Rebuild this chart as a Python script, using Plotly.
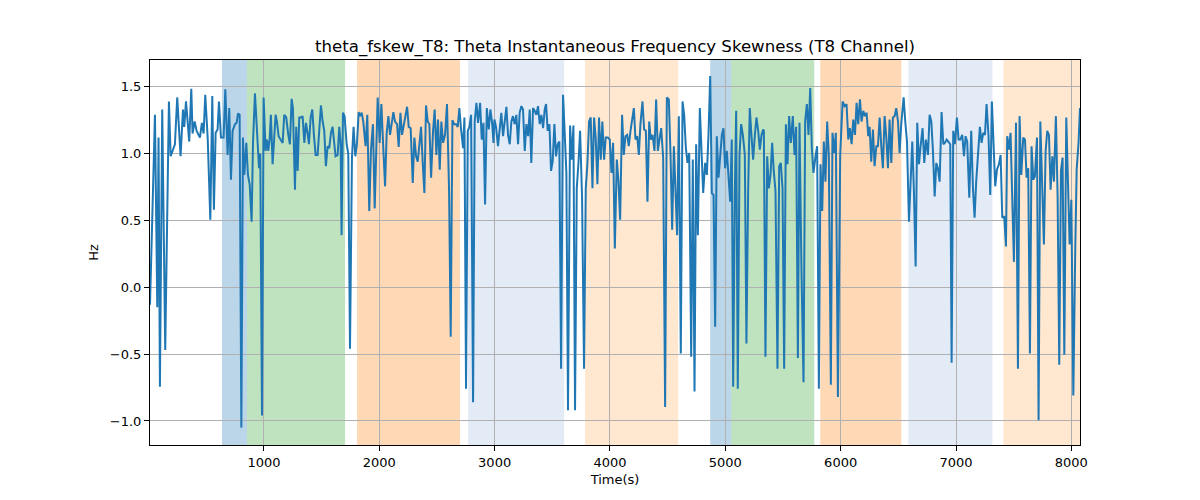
import plotly.graph_objects as go

# ---- data ----
t_seg1 = [12, 55, 75, 86, 98, 118, 144, 176, 191, 214, 228, 248, 277, 298, 309, 324, 352, 370, 381, 399,
          416, 445, 462, 477, 491, 512, 535, 552, 566, 581, 598, 610, 627, 650, 665, 685, 699, 714, 728, 749,
          763, 775, 789, 804, 818, 830, 847, 861, 876, 893, 905, 922, 939, 957, 968, 983, 997]
v_seg1 = [-0.13, 1.29, -0.15, 1.12, -0.745, 1.33, -0.47, 1.39, 0.98, 1.03, 1.07, 1.42, 0.98, 1.33, 1.2, 1.39, 1.09, 1.485, 1.15, 1.24,
          1.17, 1.12, 1.23, 1.15, 1.44, 1.12, 0.505, 1.43, 0.58, 1.155, 1.18, 1.39, 1.12, 1.12, 1.48, 0.99, 1.34, 0.805, 1.17, 1.22,
          1.23, 1.30, 1.29, -1.05, 1.12, 0.84, 1.08, 0.84, 0.77, 0.49, 1.08, 1.45, 1.14, 0.89, 1.0, -0.96, 1.42]

t_seg2 = [1014, 1026, 1037, 1049, 1060, 1075, 1089, 1101, 1112, 1127, 1144, 1162, 1176, 1193, 1211, 1225, 1240, 1251, 1269, 1280,
          1292, 1306, 1321, 1335, 1350, 1364, 1378, 1390, 1405, 1419, 1433, 1448, 1465, 1480, 1494, 1509, 1523, 1537, 1552, 1566,
          1581, 1595, 1607, 1621, 1639, 1653, 1665, 1673, 1685, 1699, 1717, 1731, 1746, 1763, 1777, 1792, 1806, 1821, 1832, 1847,
          1861, 1881, 1896, 1913, 1928, 1945, 1960]
v_seg2 = [1.02, 1.105, 1.02, 1.105, 1.29, 0.92, 1.17, 1.29, 1.24, 1.13, 1.105, 1.08, 1.29, 1.27, 1.14, 1.07, 1.41, 1.34, 0.73, 1.2,
          0.87, 1.27, 1.27, 1.28, 1.08, 1.23, 1.155, 1.07, 1.27, 1.33, 1.14, 0.99, 0.99, 1.19, 1.36, 1.24, 1.17, 0.905, 1.055, 1.04,
          1.155, 1.2, 1.08, 0.98, 0.99, 1.2, 1.07, 0.39, 1.305, 1.28, 1.07, 1.0, -0.46, 0.97, 1.2, 0.98, 1.07, 1.31, 1.28, 1.305,
          1.24, 1.055, 1.29, 0.57, 1.03, 1.22, 0.59]

t_seg3 = [1986, 2003, 2018, 2032, 2050, 2064, 2079, 2093, 2108, 2122, 2136, 2154, 2168, 2183, 2197, 2212, 2226, 2241, 2255, 2272,
          2290, 2304, 2319, 2333, 2348, 2362, 2376, 2391, 2405, 2420, 2434, 2449, 2466, 2480, 2495, 2509, 2524, 2538, 2553, 2570,
          2587, 2605, 2619, 2634, 2648, 2665, 2680, 2694, 2709, 2726, 2738, 2752, 2767, 2781, 2796, 2813, 2827, 2842, 2856, 2874,
          2888, 2903, 2917, 2932, 2949, 2963, 2978, 2990]
v_seg3 = [1.42, 1.08, 1.37, 1.09, 0.755, 1.155, 1.28, 1.14, 1.24, 1.31, 1.24, 1.22, 1.05, 1.305, 1.14, 1.22, 1.27, 1.35, 1.2, 1.19,
          0.78, 1.12, 0.98, 0.94, 1.07, 1.2, 0.94, 0.705, 1.36, 1.24, 1.22, 0.82, 1.17, 1.33, 0.99, 1.255, 0.88, 1.24, 1.08, 1.14,
          1.37, 0.72, -0.37, 1.25, 1.22, 1.22, 1.2, 1.34, 1.18, 1.04, 1.27, -0.76, 1.17, 1.2, 1.29, -0.86, 1.24, 1.38, 1.23, 1.38,
          1.105, 1.23, 0.62, 1.34, 1.18, 1.33, 1.23, 1.08]

t_seg4 = [2998, 3012, 3029, 3044, 3058, 3073, 3087, 3102, 3116, 3131, 3145, 3159, 3174, 3188, 3203, 3217, 3232, 3246, 3261, 3275,
          3290, 3304, 3318, 3333, 3347, 3362, 3376, 3391, 3405, 3420, 3434, 3446, 3460, 3475, 3489, 3503, 3518, 3532, 3547, 3561,
          3576, 3593, 3608, 3622, 3636, 3654, 3668, 3683, 3697, 3712, 3726, 3741, 3758, 3775, 3790, 3804, 3819, 3833, 3848, 3862,
          3876, 3891, 3905, 3920, 3934, 3949, 3963]
v_seg4 = [1.255, 1.2, 1.055, 1.18, 1.305, 1.13, 1.22, 1.35, 1.14, 1.07, 1.24, 1.28, 1.22, 1.29, 1.07, 1.305, 1.355, 1.33, 1.02, 1.22,
          1.13, 1.33, 0.93, 1.34, 1.32, 1.29, 1.355, 1.22, 1.29, 1.19, 1.33, 1.37, 1.17, 1.22, 0.87, 0.94, 1.22, 0.98, 1.07, 1.09,
          -0.61, 1.44, 1.14, 0.855, -0.92, 1.21, 0.955, 1.21, -0.92, 0.74, 0.92, 1.17, 0.67, -0.61, 0.74, 0.92, 1.24, 1.27, 0.74, 1.27,
          1.12, 0.77, 1.27, 0.955, 1.24, 0.955, 1.12]

t_seg5 = [3981, 3998, 4013, 4027, 4042, 4059, 4073, 4088, 4105, 4120, 4134, 4149, 4163, 4178, 4192, 4207, 4221, 4236, 4250, 4264,
          4282, 4296, 4311, 4325, 4340, 4354, 4369, 4386, 4400, 4415, 4429, 4444, 4461, 4478, 4493, 4510, 4525, 4539, 4554, 4568,
          4582, 4597, 4614, 4629, 4643, 4658, 4672, 4687, 4704, 4718, 4733, 4747, 4762, 4779, 4794, 4808, 4825, 4840, 4854, 4869,
          4883, 4898, 4912, 4926, 4941, 4955, 4970]
v_seg5 = [1.12, 1.105, 0.855, 1.08, 0.29, 0.955, 0.8, 0.505, 1.29, 0.99, 1.13, 1.14, 1.055, 1.17, 1.24, 1.34, 1.105, 1.13, 0.99, 1.22,
          1.39, 1.18, 1.17, 0.64, 1.24, 1.105, 1.14, 1.02, 1.405, 1.02, 1.105, 1.19, 0.97, -0.895, 1.42, 1.405, 0.99, 0.43, 1.055, 0.74,
          0.39, 1.28, -0.495, 1.39, 1.29, 1.04, 0.93, 1.005, -0.52, 0.955, -0.78, 1.07, 0.39, 1.34, 1.02, 0.705, 0.93, 0.84, 1.14, 1.58,
          0.705, 0.69, -0.295, 1.13, 0.82, 0.97, 1.14]

t_seg6 = [4984, 4998, 5013, 5027, 5042, 5056, 5068, 5082, 5094, 5108, 5123, 5137, 5152, 5169, 5183, 5198, 5212, 5227, 5241, 5256,
          5270, 5285, 5299, 5314, 5328, 5334, 5348, 5363, 5377, 5392, 5406, 5420, 5435, 5452, 5467, 5481, 5496, 5510, 5525, 5539,
          5553, 5568, 5585, 5600, 5614, 5629, 5643, 5660, 5678, 5692, 5707, 5721, 5736, 5750, 5764, 5782, 5796, 5811, 5825, 5840,
          5854, 5868, 5883, 5897, 5915, 5929, 5944, 5958]
v_seg6 = [1.19, 0.89, 1.02, 0.84, 0.64, 1.105, -0.745, 0.69, 1.32, -0.76, 0.99, 1.22, 1.14, 0.99, -0.42, 0.73, 1.34, 1.13, 0.955, 1.14,
          1.27, 1.17, 1.03, 1.14, 1.18, 1.17, -0.52, 0.98, 0.74, 0.84, 1.08, 0.87, 0.72, -0.61, 0.905, 0.93, 0.74, -0.61, 1.22, 0.92,
          1.28, 1.08, 1.28, 0.99, 1.2, -0.53, 1.23, 0.14, -0.71, 1.24, 1.37, 1.14, 1.49, 1.04, 0.855, 0.98, 1.055, -0.76, 0.92, 0.57,
          1.09, 0.79, 1.24, 0.99, -0.73, 1.155, 1.005, 1.155]

t_seg7 = [5976, 5996, 6017, 6034, 6051, 6066, 6080, 6095, 6109, 6124, 6138, 6152, 6167, 6181, 6196, 6210, 6225, 6239, 6251, 6265,
          6280, 6294, 6309, 6323, 6338, 6352, 6366, 6381, 6395, 6410, 6424, 6439, 6453, 6468, 6482, 6497, 6511, 6525, 6546, 6560,
          6575, 6592, 6606, 6621, 6635, 6650, 6664, 6679, 6693, 6710, 6725, 6739, 6757, 6771, 6786, 6800, 6815, 6829, 6843, 6858,
          6875, 6890, 6904, 6919, 6933, 6950, 6962]
v_seg7 = [-0.82, 0.99, 1.39, 1.355, 1.37, 1.105, 1.19, 1.07, 1.255, 1.14, 1.38, 1.22, 1.405, 1.24, 1.32, 1.28, 1.305, 1.13, 1.2, 0.94,
          1.18, 0.905, 1.055, 1.055, 1.27, 1.055, 0.89, 1.28, 1.13, 0.89, 1.255, 0.93, 1.27, 1.28, 1.34, 1.24, 1.005, 1.22, 1.42, 1.24,
          1.09, 0.49, 0.855, 1.09, 0.72, 0.155, 1.23, 0.92, 1.055, 1.19, 0.93, 1.105, 0.99, 1.29, 1.24, 1.02, 0.68, 0.93, 0.89, 0.79,
          1.31, 1.07, 1.08, 1.105, 1.09, 1.07, -0.565]

t_seg8 = [6976, 6990, 7008, 7022, 7037, 7054, 7069, 7083, 7097, 7115, 7132, 7147, 7161, 7175, 7193, 7207, 7222, 7236, 7251, 7265,
          7282, 7297, 7311, 7326, 7340, 7355, 7372, 7387, 7401, 7418, 7433, 7444, 7459, 7473, 7488, 7502, 7520, 7537, 7551, 7566,
          7583, 7598, 7612, 7626, 7641, 7655, 7670, 7684, 7702, 7716, 7731, 7745, 7762, 7777, 7791, 7806, 7820, 7835, 7849, 7866,
          7881, 7895, 7910, 7924, 7939, 7956, 7971, 7985, 8000, 8017, 8034, 8046, 8063, 8075]
v_seg8 = [1.17, 1.07, 1.27, 1.105, 1.105, 1.14, 0.98, 1.13, 1.09, 0.67, 1.17, 0.74, 0.52, 0.79, 1.07, 1.2, 1.08, 1.155, 1.14, 1.37,
          1.13, 0.69, 1.39, 1.04, 0.755, 0.88, 0.92, 0.99, 0.52, 0.53, 0.305, 1.13, 1.03, 1.155, 0.67, 0.19, 1.23, -0.61, 1.28, 0.84,
          1.12, 1.105, 0.82, 0.89, -0.495, 1.055, 0.805, 0.83, 1.12, -0.995, 1.24, 0.87, 0.32, 1.02, 1.17, 1.14, 0.73, 0.98, 0.79, 1.28,
          0.68, -0.58, 0.87, 0.97, -0.505, 1.27, 0.82, 0.32, 0.655, -0.81, 0.29, 0.88, 1.09, 1.34]

# shaded intervals (seconds) and their colours
span_start = [636, 853, 1807, 2770, 3784, 4869, 5051, 5823, 6587, 7411]
span_end = [853, 1703, 2700, 3603, 4591, 5051, 5771, 6526, 7316, 8078]
span_color = [
    "rgba(31,119,180,0.3)",
    "rgba(44,160,44,0.3)",
    "rgba(255,127,14,0.3)",
    "rgba(174,199,232,0.35)",
    "rgba(255,187,120,0.35)",
    "rgba(31,119,180,0.3)",
    "rgba(44,160,44,0.3)",
    "rgba(255,127,14,0.3)",
    "rgba(174,199,232,0.35)",
    "rgba(255,187,120,0.35)",
]

y_ticks = [-1.0, -0.5, 0.0, 0.5, 1.0, 1.5]
x_ticks = [1000, 2000, 3000, 4000, 5000, 6000, 7000, 8000]

time_s = t_seg1 + t_seg2 + t_seg3 + t_seg4 + t_seg5 + t_seg6 + t_seg7 + t_seg8
skew_hz = v_seg1 + v_seg2 + v_seg3 + v_seg4 + v_seg5 + v_seg6 + v_seg7 + v_seg8
assert len(time_s) == len(skew_hz)

fig = go.Figure()
fig.add_trace(go.Scatter(x=time_s, y=skew_hz, mode="lines",
                         line=dict(color="#1f77b4", width=2), showlegend=False))

for s, e, c in zip(span_start, span_end, span_color):
    fig.add_vrect(x0=s, x1=e, fillcolor=c, line_width=0, layer="below")

font = "DejaVu Sans, Liberation Sans, sans-serif"
fig.update_layout(
    width=1200, height=500,
    margin=dict(l=142, r=128, t=52, b=63),
    paper_bgcolor="white", plot_bgcolor="rgba(0,0,0,0)",
    font=dict(family=font, size=13, color="black"),
    title=dict(text="theta_fskew_T8: Theta Instantaneous Frequency Skewness (T8 Channel)",
               xref="paper", x=0.5, xanchor="center", y=0.924, yanchor="middle",
               font=dict(family=font, size=16.6, color="black")),
    xaxis=dict(range=[time_s[0], time_s[-1]], tickvals=x_ticks, ticks="outside", ticklen=5,
               tickcolor="black", showgrid=True, gridcolor="#b0b0b0", gridwidth=1,
               showline=True, linecolor="black", linewidth=1, mirror=True, zeroline=False,
               title=dict(text="Time(s)", font=dict(size=13), standoff=6),
               tickfont=dict(size=13), layer="above traces"),
    yaxis=dict(range=[-1.18, 1.70], tickvals=y_ticks, tickformat=".1f", ticks="outside", ticklen=5,
               tickcolor="black", showgrid=True, gridcolor="#b0b0b0", gridwidth=1,
               showline=True, linecolor="black", linewidth=1, mirror=True, zeroline=False,
               title=dict(text="Hz", font=dict(size=13), standoff=8),
               tickfont=dict(size=13)),
)

fig.write_html("out.html")
